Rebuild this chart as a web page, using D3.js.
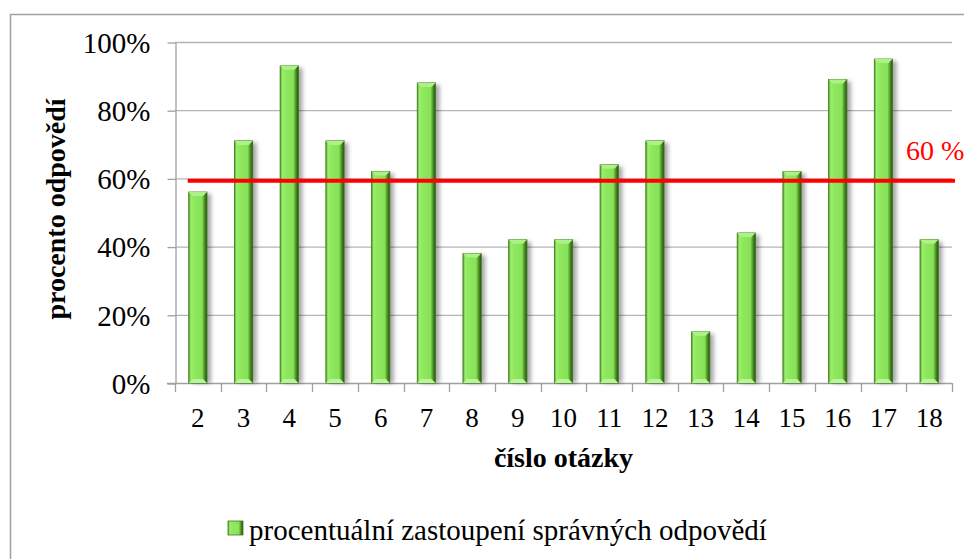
<!DOCTYPE html>
<meta charset="utf-8">
<head>
    <title>procento odpovědí</title>
    <style>
        body { margin: 0; background: #fff; }
        svg { display: block; overflow: hidden; }
        text { font-family: "Liberation Serif", "Times New Roman", serif; }
    </style>
</head>
<body>
    <script src="https://cdn.jsdelivr.net/npm/d3@7"></script>
    <div id="chart"></div>
    <script>

        // question numbers and share of correct answers (%)
        var questions = ['2', '3', '4', '5', '6', '7', '8', '9', '10', '11', '12', '13', '14', '15', '16', '17', '18'];
        var correctPct = [56, 71, 93, 71, 62, 88, 38, 42, 42, 64, 71, 15, 44, 62, 89, 95, 42];
        var yTicks = [0, 20, 40, 60, 80, 100];
        var threshold = 59.3;
        var thresholdLabel = '60 %';
        var legendLabel = 'procentuální zastoupení správných odpovědí';

        var width = 964;
        var height = 559;
        var margin = { left: 175, right: 12, top: 42, bottom: 176 };

        var svg = d3.select('#chart')
          .append('svg')
          .attr('width', width)
          .attr('height', height);

        var defs = svg.append('defs');

        var grad = defs.append('linearGradient')
          .attr('id', 'barGrad')
          .attr('x1', 0).attr('x2', 1).attr('y1', 0).attr('y2', 0);
        [[0, '#4f9a26'], [0.12, '#9cf06c'], [0.28, '#8fe85f'], [0.72, '#88e258'], [0.86, '#4d9424'], [1, '#244d10']]
          .forEach(function(s) {
            grad.append('stop').attr('offset', s[0]).attr('stop-color', s[1]);
          });

        defs.append('filter')
          .attr('id', 'shadow')
          .attr('x', '-50%').attr('width', '200%')
          .append('feGaussianBlur')
          .attr('stdDeviation', 2.2);

        // outer frame
        svg.append('rect')
          .attr('x', 10.5)
          .attr('y', 14.5)
          .attr('width', 1000)
          .attr('height', 700)
          .attr('fill', 'none')
          .attr('stroke', '#a0a0a0')
          .attr('stroke-width', 1.5);

        var x = d3.scaleBand()
          .domain(questions)
          .range([margin.left, width - margin.right])
          .paddingInner(0.6)
          .paddingOuter(0.3);

        var y = d3.scaleLinear()
          .domain([0, 100])
          .range([height - margin.bottom, margin.top]);

        var x0 = x.range()[0], x1 = x.range()[1];
        var gap = (x.step() - x.bandwidth()) / 2;

        // gridlines
        svg.append('g')
          .selectAll('line')
          .data(yTicks.filter(function(d) { return d > 0; }))
          .enter()
          .append('line')
          .attr('x1', x0)
          .attr('x2', x1)
          .attr('y1', function(d) { return y(d) + 0.5; })
          .attr('y2', function(d) { return y(d) + 0.5; })
          .attr('stroke', '#b4b4b4')
          .attr('stroke-width', 1.3);

        // y axis
        var yAxis = svg.append('g')
          .attr('transform', 'translate(' + (x0 + 0.5) + ',0.5)')
          .call(d3.axisLeft(y).tickValues(yTicks).tickFormat(function(d) { return d + '%'; })
            .tickSize(8).tickSizeOuter(0).tickPadding(17));
        yAxis.select('.domain').attr('stroke', '#a0a0a0').attr('stroke-width', 1.3);
        yAxis.selectAll('.tick line').attr('stroke', '#a0a0a0').attr('stroke-width', 1.3);
        yAxis.selectAll('.tick text')
          .attr('font-family', '"Liberation Serif", serif')
          .attr('font-size', 29)
          .attr('fill', '#000')
          .attr('dy', '0.34em');

        // x axis baseline and boundary ticks
        var xg = svg.append('g');
        xg.append('line')
          .attr('x1', x0 - 8)
          .attr('x2', x1)
          .attr('y1', y(0) + 0.5)
          .attr('y2', y(0) + 0.5)
          .attr('stroke', '#a0a0a0')
          .attr('stroke-width', 1.3);
        var bounds = questions.map(function(q) { return x(q) - gap; }).concat([x1]);
        xg.selectAll('line.tk')
          .data(bounds)
          .enter()
          .append('line')
          .attr('class', 'tk')
          .attr('x1', function(d) { return Math.round(d) + 0.5; })
          .attr('x2', function(d) { return Math.round(d) + 0.5; })
          .attr('y1', y(0))
          .attr('y2', y(0) + 9)
          .attr('stroke', '#a0a0a0')
          .attr('stroke-width', 1.3);
        xg.selectAll('text')
          .data(questions)
          .enter()
          .append('text')
          .attr('x', function(d) { return x(d) + x.bandwidth() / 2; })
          .attr('y', y(0) + 44)
          .attr('text-anchor', 'middle')
          .attr('font-size', 27)
          .text(function(d) { return d; });

        // bars
        var bars = svg.append('g')
          .selectAll('g')
          .data(questions.map(function(q, i) { return { q: q, v: correctPct[i] }; }))
          .enter()
          .append('g');

        bars.append('rect')
          .attr('x', function(d) { return x(d.q) + 4; })
          .attr('y', function(d) { return y(d.v) + 2; })
          .attr('width', x.bandwidth())
          .attr('height', function(d) { return y(0) - y(d.v) - 2; })
          .attr('fill', 'rgba(0,0,0,0.35)')
          .attr('filter', 'url(#shadow)');

        bars.append('rect')
          .attr('x', function(d) { return x(d.q); })
          .attr('y', function(d) { return y(d.v); })
          .attr('width', x.bandwidth())
          .attr('height', function(d) { return y(0) - y(d.v); })
          .attr('fill', 'url(#barGrad)')
          .attr('stroke', '#3d7a1c')
          .attr('stroke-width', 0.8);

        // top and bottom bevels
        bars.append('path')
          .attr('d', function(d) {
            var l = x(d.q), r = l + x.bandwidth(), t = y(d.v);
            return 'M' + l + ',' + t + 'L' + r + ',' + t + 'L' + (r - 4) + ',' + (t + 4) + 'L' + (l + 4) + ',' + (t + 4) + 'Z';
          })
          .attr('fill', '#aef287');
        bars.append('path')
          .attr('d', function(d) {
            var l = x(d.q), r = l + x.bandwidth(), b = y(0);
            return 'M' + l + ',' + b + 'L' + r + ',' + b + 'L' + (r - 4) + ',' + (b - 4) + 'L' + (l + 4) + ',' + (b - 4) + 'Z';
          })
          .attr('fill', '#b8f597');

        // 60 % threshold line
        svg.append('line')
          .attr('x1', x(questions[0]) - 1)
          .attr('x2', x1 + 3)
          .attr('y1', y(threshold))
          .attr('y2', y(threshold))
          .attr('stroke', '#ff0000')
          .attr('stroke-width', 4);

        svg.append('text')
          .attr('x', 906)
          .attr('y', y(threshold) - 21)
          .attr('font-size', 28)
          .attr('fill', '#ff0000')
          .text(thresholdLabel);

        // axis titles
        svg.append('text')
          .attr('transform', 'translate(65,209) rotate(-90)')
          .attr('text-anchor', 'middle')
          .attr('font-size', 28)
          .attr('font-weight', 'bold')
          .text('procento odpovědí');

        svg.append('text')
          .attr('x', (x0 + x1) / 2)
          .attr('y', 467)
          .attr('text-anchor', 'middle')
          .attr('font-size', 28)
          .attr('font-weight', 'bold')
          .text('číslo otázky');

        // legend
        var lg = svg.append('g').attr('transform', 'translate(228,521)');
        lg.append('rect')
          .attr('width', 15)
          .attr('height', 14)
          .attr('fill', 'url(#barGrad)')
          .attr('stroke', '#3d7a1c')
          .attr('stroke-width', 0.8);
        lg.append('rect')
          .attr('x', 4).attr('y', 4)
          .attr('width', 7).attr('height', 6)
          .attr('fill', '#8fe85f');
        lg.append('text')
          .attr('x', 21)
          .attr('y', 19)
          .attr('font-size', 29)
          .text(legendLabel);

  </script>
</body>
